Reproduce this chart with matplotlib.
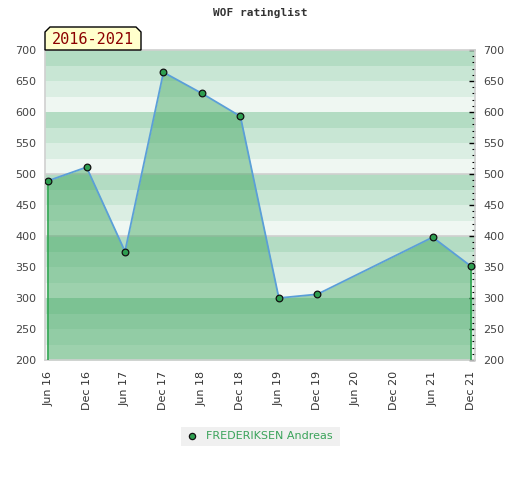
import matplotlib
matplotlib.use("Agg")
import matplotlib.pyplot as plt
from matplotlib.patches import Polygon, Rectangle
from matplotlib.lines import Line2D
import numpy as np

# ---- data ----
tick_labels = ["Jun 16", "Dec 16", "Jun 17", "Dec 17", "Jun 18", "Dec 18",
               "Jun 19", "Dec 19", "Jun 20", "Dec 20", "Jun 21", "Dec 21"]
periods = ["Jun 16", "Dec 16", "Jun 17", "Dec 17", "Jun 18", "Dec 18",
           "Jun 19", "Dec 19", "Jun 21", "Dec 21"]
ratings = [489, 511, 375, 664, 630, 593, 300, 306, 398, 351]
player = "FREDERIKSEN Andreas"
title = "WOF ratinglist"
range_label = "2016-2021"

W, H = 520, 480
fig = plt.figure(figsize=(W / 100, H / 100), dpi=100)
ax = fig.add_axes([45 / W, 1 - 360 / H, 430 / W, 310 / H])

ymin, ymax = 200, 700
band_colors = ["#eff7f2", "#dbeee3", "#c8e6d4", "#b3dcc3"]
for base in range(ymin, ymax, 100):
    for k, c in enumerate(band_colors):
        ax.axhspan(base + 25 * k, base + 25 * (k + 1), color=c, lw=0, zorder=0)
for yl in (500, 400):
    ax.axhline(yl, color="#d0d0d0", lw=1.2, zorder=1)

x = np.array([tick_labels.index(p) for p in periods], dtype=float)
y = np.array(ratings, dtype=float)

ax.fill_between(x, ymin, y, color="#3aa35a", alpha=0.45, lw=0, zorder=2)
ax.vlines([x[0], x[-1]], ymin, [y[0], y[-1]], color="#2ea44f", lw=1.2, zorder=3)
ax.plot(x, y, color="#5b9fd8", lw=1.3, zorder=4)
ax.plot(x, y, "o", ms=4.8, mfc="#2e9e50", mec="#111111", mew=0.9, zorder=5)

ax.set_xlim(-0.08, 11.1)
ax.set_ylim(ymin, ymax)

ax.set_xticks(range(len(tick_labels)))
ax.set_xticklabels(tick_labels, rotation=90, fontsize=8, color="#333333")
ax.tick_params(axis="x", length=0, pad=8)

ax.set_yticks(range(200, 701, 50))
ax.tick_params(axis="y", which="both", left=False, right=True, labelleft=True,
               labelright=True, direction="in", labelsize=8)
ax.tick_params(axis="y", which="major", length=4, color="#000000", width=1, pad=6)
ax.set_yticks(range(200, 701, 10), minor=True)
ax.tick_params(axis="y", which="minor", length=2.5, color="#000000", width=0.8)
for lbl in ax.get_yticklabels():
    lbl.set_color("#444444")

for s in ax.spines.values():
    s.set_color("#d0d0d0")
    s.set_linewidth(1.2)

# title
fig.text(260 / W, 1 - 13 / H, title, ha="center", va="center",
         fontsize=8, family="DejaVu Sans Mono", fontweight="bold", color="#333333")

# range label box with chamfered corners
pts = [(45, 50), (45, 32), (50, 27), (136, 27), (141, 32), (141, 50)]
poly = Polygon([(px / W, 1 - py / H) for px, py in pts], closed=True,
               transform=fig.transFigure, facecolor="#ffffcc",
               edgecolor="#000000", lw=1, zorder=10)
fig.patches.append(poly)
fig.text(93 / W, 1 - 40 / H, range_label, ha="center", va="center",
         fontsize=11, family="DejaVu Sans Mono", color="#8b0000", zorder=11)

# legend
rect = Rectangle((181 / W, 1 - 446 / H), 159 / W, 19 / H, transform=fig.transFigure,
                 facecolor="#f0f0f0", edgecolor="none", zorder=10)
fig.patches.append(rect)
fig.lines.append(Line2D([192 / W], [1 - 436 / H], transform=fig.transFigure,
                        marker="o", ms=4.5, mfc="#2e9e50", mec="#111111", mew=0.9,
                        ls="none", zorder=11))
fig.text(206 / W, 1 - 436 / H, player, ha="left", va="center",
         fontsize=8, color="#3aa35a", zorder=11)

fig.savefig("out.png", dpi=100)
